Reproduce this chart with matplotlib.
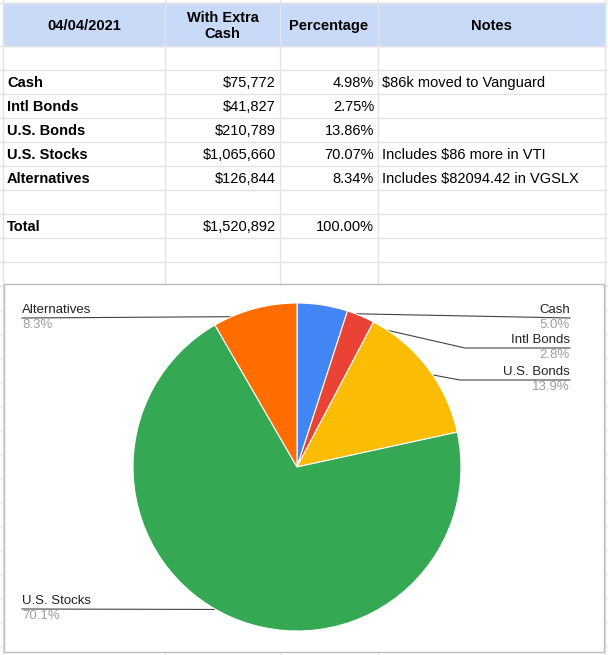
import numpy as np
import matplotlib
matplotlib.use("Agg")
import matplotlib.pyplot as plt

W, H = 608, 655
date_label = "04/04/2021"
headers = ["With Extra\nCash", "Percentage", "Notes"]
categories = ["Cash", "Intl Bonds", "U.S. Bonds", "U.S. Stocks", "Alternatives"]
amounts = ["$75,772", "$41,827", "$210,789", "$1,065,660", "$126,844"]
percents = [4.98, 2.75, 13.86, 70.07, 8.34]
notes = ["$86k moved to Vanguard", "", "", "Includes $86 more in VTI", "Includes $82094.42 in VGSLX"]
total_amount = "$1,520,892"
total_pct = "100.00%"
colors = ["#4285f4", "#ea4335", "#fbbc04", "#34a853", "#ff6d01"]

fig = plt.figure(figsize=(W / 100, H / 100), dpi=100)
ax = fig.add_axes([0, 0, 1, 1])
ax.set_xlim(0, W)
ax.set_ylim(H, 0)
ax.axis("off")

cols = [3, 165, 280, 378, 605]
grid = "#e2e2e2"
# header
ax.add_patch(plt.Rectangle((3, 3), 602, 43, color="#c9daf8", zorder=0))
rows_y = [46] + [70 + 24 * i for i in range(25)]
for y in [3] + rows_y:
    ax.plot([0, W], [y, y], color=grid, lw=1, zorder=1)
for x in cols:
    ax.plot([x, x], [0, H], color=grid, lw=1, zorder=1)

fs = 10.5
ax.text(84, 26, date_label, ha="center", va="center", fontsize=fs, fontweight="bold", family="Liberation Sans")
for (x0, x1), h in zip(zip(cols[1:], cols[2:]), headers):
    ax.text((x0 + x1) / 2, 26, h, ha="center", va="center", fontsize=fs, fontweight="bold",
            family="Liberation Sans", linespacing=1.1)

def row(y, name, amt, pct, note):
    ax.text(7, y, name, ha="left", va="center", fontsize=fs, fontweight="bold", family="Liberation Sans")
    ax.text(276, y, amt, ha="right", va="center", fontsize=fs, family="Liberation Sans")
    ax.text(374, y, pct, ha="right", va="center", fontsize=fs, family="Liberation Sans")
    ax.text(382, y, note, ha="left", va="center", fontsize=fs, family="Liberation Sans")

for i, c in enumerate(categories):
    row(83 + 24 * i, c, amounts[i], f"{percents[i]:.2f}%", notes[i])
row(227, "Total", total_amount, total_pct, "")

# chart box
ax.add_patch(plt.Rectangle((4, 284), 600, 368, facecolor="white", edgecolor="#bdbdbd", lw=1, zorder=2))

cx, cy, r = 297, 467, 164
pax = fig.add_axes([(cx - r) / W, 1 - (cy + r) / H, 2 * r / W, 2 * r / H])
pax.pie(percents, colors=colors, startangle=90, counterclock=False,
        wedgeprops=dict(edgecolor="white", linewidth=0.8))
pax.set_xlim(-1, 1)
pax.set_ylim(-1, 1)
pax.set_aspect("equal")

# leader lines and labels
cum = np.cumsum([0] + percents[:-1])
mid = np.deg2rad((cum + np.array(percents) / 2) * 3.6)
dots = [(cx + 0.95 * r * np.sin(a), cy - 0.95 * r * np.cos(a)) for a in mid]
lab = [(570, 318, "right", None), (570, 348, "right", 465), (570, 380, "right", 460),
       (22, 609, "left", None), (22, 318, "left", None)]
for (dx, dy), (lx, ly, ha, knee), c, p in zip(dots, lab, categories, percents):
    if knee:
        xs, ys = [dx, knee, lx], [dy, ly, ly]
    else:
        xs, ys = [dx, lx], [dy, ly]
    ax.plot(xs, ys, color="#444444", lw=0.8, zorder=5)
    ax.plot(dx, dy, "o", ms=3, color="#9e9e9e", zorder=6)
    ax.text(lx, ly - 2, c, ha=ha, va="bottom", fontsize=9.5, color="#222222", family="Liberation Sans", zorder=6)
    ax.text(lx, ly + 1, f"{p:.1f}%", ha=ha, va="top", fontsize=9.5, color="#9e9e9e", family="Liberation Sans", zorder=6)

fig.savefig("out.png", dpi=100)
